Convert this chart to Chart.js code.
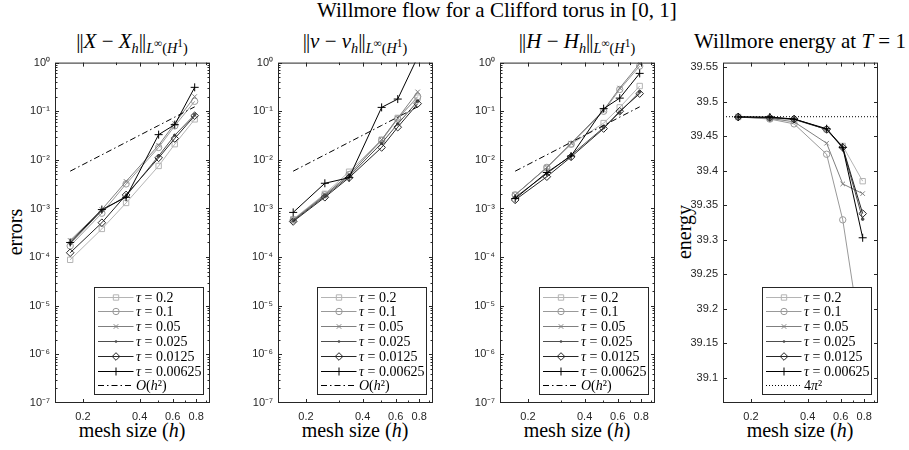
<!DOCTYPE html>
<html lang="en">
<head>
<meta charset="UTF-8" />
<title>Willmore flow for a Clifford torus</title>
<script src="https://cdn.jsdelivr.net/npm/chart.js"></script>
<style>
  body {
    margin: 0;
    width: 909px;
    height: 450px;
    background: #fff;
    position: relative;
    overflow: hidden;
    font-family: 'Liberation Serif', 'Times New Roman', serif;
    color: #000;
  }
  .txt {
    position: absolute;
    white-space: nowrap;
    font-size: 20px;
    line-height: 20px;
    width: 300px;
    text-align: center;
  }
  .big { font-size: 21px; }
  .txt sub, .txt sup { font-size: 68%; line-height: 0; }
  .txt sub sup { font-size: 80%; }
  .nb { letter-spacing: -1px; margin-right: 1px; }
  .ylab { transform: rotate(-90deg); }
  .panel { position: absolute; top: 51px; }
</style>
</head>
<body>
  <div class="txt big" style="left:317px; top:0px;">Willmore flow for a Clifford torus in [0, 1]</div>

  <div class="txt big" style="left:-18px; top:31px;"><span class="nb">||</span><i>X</i> − <i>X</i><sub><i>h</i></sub><span class="nb">||</span><sub><i>L</i><sup>∞</sup>(<i>H</i><sup>1</sup>)</sub></div>
  <div class="txt big" style="left:205px; top:31px;"><span class="nb">||</span><i>ν</i> − <i>ν</i><sub><i>h</i></sub><span class="nb">||</span><sub><i>L</i><sup>∞</sup>(<i>H</i><sup>1</sup>)</sub></div>
  <div class="txt big" style="left:427px; top:31px;"><span class="nb">||</span><i>H</i> − <i>H</i><sub><i>h</i></sub><span class="nb">||</span><sub><i>L</i><sup>∞</sup>(<i>H</i><sup>1</sup>)</sub></div>
  <div class="txt big" style="left:650px; top:31px;">Willmore energy at <i>T</i> = 1</div>

  <div class="txt" style="left:-18px; top:420px;">mesh size (<i>h</i>)</div>
  <div class="txt" style="left:205px; top:420px;">mesh size (<i>h</i>)</div>
  <div class="txt" style="left:427px; top:420px;">mesh size (<i>h</i>)</div>
  <div class="txt" style="left:650px; top:420px;">mesh size (<i>h</i>)</div>

  <div class="txt ylab" style="left:-135px; top:222px;">errors</div>
  <div class="txt ylab" style="left:534px; top:222px;">energy</div>

  <canvas id="c1" class="panel" width="215" height="392" style="left:5px;"></canvas>
  <canvas id="c2" class="panel" width="215" height="392" style="left:228px;"></canvas>
  <canvas id="c3" class="panel" width="215" height="392" style="left:450px;"></canvas>
  <canvas id="c4" class="panel" width="215" height="392" style="left:673px;"></canvas>

<script>
// mesh sizes h and time steps tau
const meshSize = [0.171, 0.252, 0.339, 0.505, 0.615, 0.785];
const tauValues = ['0.2', '0.1', '0.05', '0.025', '0.0125', '0.00625'];

// ||X - X_h||, one row per tau
const errX = [
  [8.8e-5, 3.8e-4, 1.3e-3, 7.5e-3, 2.1e-2, 6.8e-2],
  [1.7e-4, 8.0e-4, 3.2e-3, 1.8e-2, 5.0e-2, 1.6e-1],
  [2.2e-4, 9.5e-4, 3.6e-3, 2.0e-2, 5.6e-2, 2.0e-1],
  [1.9e-4, 9.0e-4, 1.8e-3, 1.2e-2, 3.2e-2, 8.5e-2],
  [1.23e-4, 5.1e-4, 1.9e-3, 1.1e-2, 2.75e-2, 8.1e-2],
  [2.0e-4, 9.5e-4, 1.7e-3, 3.3e-2, 5.3e-2, 3.1e-1]
];

// ||nu - nu_h||
const errNu = [
  [6.0e-4, 2.0e-3, 5.7e-3, 2.6e-2, 7.3e-2, 1.9e-1],
  [5.8e-4, 1.9e-3, 5.0e-3, 2.5e-2, 7.0e-2, 2.0e-1],
  [5.8e-4, 1.9e-3, 5.0e-3, 2.6e-2, 7.2e-2, 2.5e-1],
  [5.6e-4, 1.8e-3, 4.6e-3, 2.2e-2, 5.5e-2, 1.6e-1],
  [5.4e-4, 1.7e-3, 4.3e-3, 1.8e-2, 4.7e-2, 1.43e-1],
  [8.3e-4, 3.3e-3, 4.3e-3, 1.2e-1, 1.78e-1, 1.3]
];

// ||H - H_h||
const errH = [
  [1.9e-3, 6.8e-3, 2.1e-2, 5.7e-2, 1.2e-1, 3.3e-1],
  [1.9e-3, 7.0e-3, 2.1e-2, 1.0e-1, 2.8e-1, 8.5e-1],
  [1.9e-3, 7.0e-3, 2.2e-2, 1.05e-1, 3.0e-1, 9.5e-1],
  [1.7e-3, 5.2e-3, 1.25e-2, 4.6e-2, 9.5e-2, 2.5e-1],
  [1.5e-3, 4.5e-3, 1.15e-2, 4.4e-2, 1.0e-1, 2.3e-1],
  [1.6e-3, 5.5e-3, 1.2e-2, 1.13e-1, 1.86e-1, 6.0e-1]
];

// Willmore energy at T = 1
const energy = [
  [39.478, 39.476, 39.474, 39.460, 39.436, 39.385],
  [39.478, 39.475, 39.468, 39.424, 39.329, 39.14],
  [39.478, 39.476, 39.471, 39.440, 39.381, 39.367],
  [39.478, 39.477, 39.475, 39.460, 39.433, 39.33],
  [39.478, 39.477, 39.475, 39.460, 39.434, 39.338],
  [39.478, 39.478, 39.475, 39.461, 39.434, 39.303]
];

// reference O(h^2) line and 4*pi^2
const orderRef = [0.00585, 0.0127, 0.0230, 0.0510, 0.0756, 0.1232];
const fourPiSq = 39.4784;

// axis ticks
const xTicks = [0.2, 0.4, 0.6, 0.8];
const xMinorTicks = [0.3, 0.5, 0.7, 0.9];
const logTicks = [1e-7, 1e-6, 1e-5, 1e-4, 1e-3, 1e-2, 1e-1, 1];
const energyTicks = [39.1, 39.15, 39.2, 39.25, 39.3, 39.35, 39.4, 39.45, 39.5, 39.55];
const xMin = 0.142, xMax = 0.947;

// styles
const seriesColors = ['#b4b4b4', '#999999', '#7f7f7f', '#4d4d4d', '#262626', '#000000'];
const seriesMarkers = ['rect', 'circle', 'crossRot', 'dot', 'rectRot', 'cross'];
const markerRadius = [3.8, 3.2, 3.2, 1.3, 3.8, 4];
const axisColor = '#262626';
const tickFont = { family: "'Liberation Sans', Arial, sans-serif", size: 11 };

const logMinor = [];
for (let e = -7; e < 0; e++) for (let k = 2; k <= 9; k++) logMinor.push(k * Math.pow(10, e));

const supMap = { '-': '⁻', '0': '⁰', '1': '¹', '2': '²', '3': '³', '4': '⁴', '5': '⁵', '6': '⁶', '7': '⁷', '8': '⁸', '9': '⁹' };
function powLabel(v) {
  const e = String(Math.round(Math.log10(v)));
  return '10' + e.split('').map(c => supMap[c]).join('');
}

function drawMarker(ctx, style, x, y, r, color) {
  ctx.save();
  ctx.strokeStyle = color;
  ctx.fillStyle = color;
  ctx.lineWidth = 1;
  ctx.beginPath();
  if (style === 'rect') {
    const s = r * Math.SQRT1_2;
    ctx.rect(x - s, y - s, 2 * s, 2 * s);
    ctx.stroke();
  } else if (style === 'circle') {
    ctx.arc(x, y, r, 0, Math.PI * 2);
    ctx.stroke();
  } else if (style === 'crossRot') {
    const s = r * Math.SQRT1_2;
    ctx.moveTo(x - s, y - s); ctx.lineTo(x + s, y + s);
    ctx.moveTo(x - s, y + s); ctx.lineTo(x + s, y - s);
    ctx.stroke();
  } else if (style === 'cross') {
    ctx.moveTo(x - r, y); ctx.lineTo(x + r, y);
    ctx.moveTo(x, y - r); ctx.lineTo(x, y + r);
    ctx.stroke();
  } else if (style === 'rectRot') {
    ctx.moveTo(x - r, y); ctx.lineTo(x, y - r); ctx.lineTo(x + r, y); ctx.lineTo(x, y + r);
    ctx.closePath();
    ctx.stroke();
  } else if (style === 'dot') {
    ctx.arc(x, y, r, 0, Math.PI * 2);
    ctx.fill();
  }
  ctx.restore();
}

// box, inward ticks and the legend, matlab style
const matlabAxes = {
  id: 'matlabAxes',
  afterDatasetsDraw(chart, args, opts) {
    const { ctx, chartArea: a, scales: { x, y } } = chart;
    ctx.save();
    ctx.strokeStyle = axisColor;
    ctx.lineWidth = 1;
    ctx.beginPath();
    const xt = (vals, len) => vals.forEach(v => {
      const px = Math.round(x.getPixelForValue(v)) + 0.5;
      if (px < a.left || px > a.right) return;
      ctx.moveTo(px, a.bottom); ctx.lineTo(px, a.bottom - len);
      ctx.moveTo(px, a.top); ctx.lineTo(px, a.top + len);
    });
    const yt = (vals, len) => vals.forEach(v => {
      const py = Math.round(y.getPixelForValue(v)) + 0.5;
      if (py < a.top || py > a.bottom) return;
      ctx.moveTo(a.left, py); ctx.lineTo(a.left + len, py);
      ctx.moveTo(a.right, py); ctx.lineTo(a.right - len, py);
    });
    xt(xTicks, 4); xt(xMinorTicks, 2.5);
    yt(opts.yMajor, 4); yt(opts.yMinor || [], 2.5);
    ctx.stroke();
    ctx.strokeRect(a.left + 0.5, a.top + 0.5, a.width - 1, a.height - 1);

    // legend
    const w = 109, h = 107;
    const left = Math.round(a.right - 7 - w) + 0.5, top = Math.round(a.bottom - 9 - h) + 0.5;
    ctx.fillStyle = '#fff';
    ctx.fillRect(left, top, w, h);
    ctx.strokeRect(left, top, w, h);
    chart.data.datasets.forEach((ds, i) => {
      const cy = Math.round(top + 9 + i * 14.8) + 0.5;
      ctx.strokeStyle = ds.borderColor;
      ctx.lineWidth = ds.borderWidth;
      ctx.setLineDash(ds.borderDash || []);
      ctx.beginPath();
      ctx.moveTo(left + 3.5, cy); ctx.lineTo(left + 39, cy);
      ctx.stroke();
      ctx.setLineDash([]);
      if (ds.marker) drawMarker(ctx, ds.marker, left + 21.5, cy, ds.pointRadius, ds.borderColor);
      let tx = left + 41.5;
      ctx.fillStyle = '#000';
      ds.labelParts.forEach(p => {
        ctx.font = (p.it ? 'italic ' : '') + "14px 'Liberation Serif', serif";
        ctx.fillText(p.t, tx, cy + 4.5);
        tx += ctx.measureText(p.t).width;
      });
    });
    ctx.restore();
  }
};

function makePanel(id, rows, yScale, yMajor, yMinor, refDataset) {
  const datasets = rows.map((vals, i) => ({
    label: 'τ = ' + tauValues[i],
    labelParts: [{ t: 'τ', it: true }, { t: ' = ' + tauValues[i] }],
    marker: seriesMarkers[i],
    data: meshSize.map((hv, j) => ({ x: hv, y: vals[j] })),
    showLine: true,
    borderColor: seriesColors[i],
    borderWidth: 1,
    pointStyle: seriesMarkers[i] === 'dot' ? 'circle' : seriesMarkers[i],
    pointRadius: markerRadius[i],
    pointHoverRadius: markerRadius[i],
    pointBorderColor: seriesColors[i],
    pointBackgroundColor: seriesMarkers[i] === 'dot' ? seriesColors[i] : 'rgba(0,0,0,0)',
    pointBorderWidth: 1,
    order: 10 - i
  }));
  datasets.push(refDataset);

  return new Chart(document.getElementById(id), {
    type: 'scatter',
    data: { datasets },
    options: {
      responsive: false,
      animation: false,
      events: [],
      layout: { padding: { top: 10, right: 10, left: 0, bottom: 0 } },
      plugins: {
        legend: { display: false },
        tooltip: { enabled: false },
        matlabAxes: { yMajor, yMinor }
      },
      scales: {
        x: {
          type: 'logarithmic',
          min: xMin, max: xMax,
          afterBuildTicks: s => { s.ticks = xTicks.map(v => ({ value: v })); },
          afterFit: s => { s.height = 40; },
          grid: { display: false, drawTicks: false },
          border: { display: false },
          ticks: {
            autoSkip: false, maxRotation: 0, padding: 7,
            color: axisColor, font: tickFont,
            callback: v => String(v)
          }
        },
        y: Object.assign({
          afterFit: s => { s.width = 50; },
          grid: { display: false, drawTicks: false },
          border: { display: false }
        }, yScale)
      }
    },
    plugins: [matlabAxes]
  });
}

const logY = {
  type: 'logarithmic',
  min: 1e-7, max: 1,
  afterBuildTicks: s => { s.ticks = logTicks.map(v => ({ value: v })); },
  ticks: { padding: 5, color: axisColor, font: tickFont, callback: v => powLabel(v) }
};

function orderDataset() {
  return {
    label: 'O(h²)',
    labelParts: [{ t: 'O', it: true }, { t: '(' }, { t: 'h', it: true }, { t: '²)' }],
    data: meshSize.map((hv, j) => ({ x: hv, y: orderRef[j] })),
    showLine: true,
    borderColor: '#000',
    borderWidth: 1,
    borderDash: [6, 3, 1.5, 3],
    pointRadius: 0,
    order: 0
  };
}

makePanel('c1', errX, logY, logTicks, logMinor, orderDataset());
makePanel('c2', errNu, logY, logTicks, logMinor, orderDataset());
makePanel('c3', errH, logY, logTicks, logMinor, orderDataset());

makePanel('c4', energy, {
  type: 'linear',
  min: 39.0636, max: 39.5568,
  afterBuildTicks: s => { s.ticks = energyTicks.map(v => ({ value: v })); },
  ticks: { padding: 5, color: axisColor, font: tickFont, callback: v => String(Number(v.toFixed(2))) }
}, energyTicks, [], {
  label: '4π²',
  labelParts: [{ t: '4' }, { t: 'π', it: true }, { t: '²' }],
  data: [{ x: xMin, y: fourPiSq }, { x: xMax, y: fourPiSq }],
  showLine: true,
  borderColor: '#000',
  borderWidth: 1,
  borderDash: [1, 2],
  pointRadius: 0,
  order: 0
});
</script>
</body>
</html>
